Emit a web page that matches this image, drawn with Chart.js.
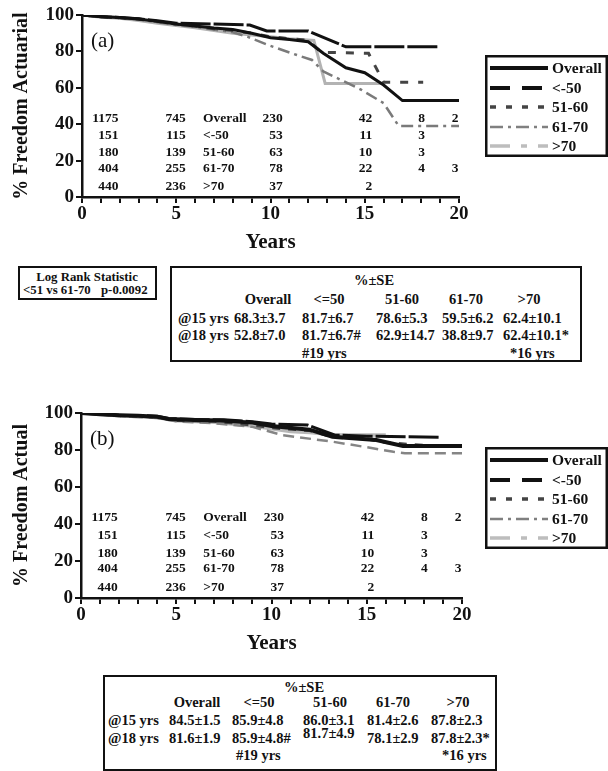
<!DOCTYPE html>
<html><head><meta charset="utf-8">
<script src="https://cdn.jsdelivr.net/npm/chart.js@4"></script>
<style>
html,body{margin:0;padding:0;background:#fff;width:608px;height:771px;overflow:hidden;font-family:"Liberation Serif","DejaVu Serif",serif;}
canvas{position:absolute;left:0;}
.box{position:absolute;border:2px solid #111;box-sizing:border-box;}
.t{position:absolute;white-space:nowrap;line-height:16px;height:16px;font-weight:bold;font-size:14.5px;color:#111;}
.s{font-size:12.8px;}
.c{transform:translateX(-50%);}
</style></head><body>
<canvas id="ca" width="608" height="255" style="top:0px"></canvas>
<canvas id="cb" width="608" height="270" style="top:390px"></canvas>
<div id="tables"></div>
<script>
// ---------------- DATA ----------------
const groups = ['Overall', '<-50', '51-60', '61-70', '>70'];
const xTickLabels = [0, 5, 10, 15, 20];
const yTickLabels = [0, 20, 40, 60, 80, 100];

// Panel (a): % Freedom Actuarial  [years, %]
const aOverall = [[0,100],[1,99.2],[2,98.6],[3,97.8],[4,96.5],[5,95],[6,94],[7,92.8],[8,92],[9,90],[10,87.5],[11,86.5],[12,85.3],[12.8,79],[14,71],[15,68.3],[16,61.5],[17,53],[20,53]];
const aUnder50 = [[0,100],[1,99],[2,98.6],[3,98],[4,96.8],[5,95.5],[7,95],[8.9,94.5],[9.8,91.2],[12,91.2],[14,82.5],[19,82.5]];
const a51to60 = [[0,100],[1,99],[2,98.5],[3,97.8],[4,96.5],[5,95],[6,94],[7,92.5],[8,91.5],[9,90],[10,88],[11,87],[12,86],[12.7,79.5],[15.2,79],[16,63],[18.1,63]];
const a61to70 = [[0,100],[1,99],[2,98.3],[3,97.5],[4,96],[5,94.5],[6,93.5],[7,92],[8,90.5],[8.8,88],[10,83],[11.4,78],[12.2,75.3],[12.8,69],[14.8,59],[16,51.6],[16.8,39],[20,39]];
const aOver70 = [[0,100],[1,98.8],[2,98.2],[3,97],[4,95.5],[5,94.2],[6,93],[7,91.5],[8,90],[9,89],[10,88],[11,87],[12.3,86],[12.9,62.4],[16,62.4]];

// Panel (b): % Freedom Actual
const bOverall = [[0,100],[1,99.3],[2,98.8],[3,98.5],[4,98],[4.6,96.8],[6,96.2],[7.3,96],[9,94.8],[10,93],[12,91],[13.2,87.2],[15.5,85.4],[16.9,82.2],[20,82.2]];
const bUnder50 = [[0,100],[1,99.3],[2,98.8],[3,98.6],[4,98.3],[4.6,97],[6,96.5],[7.5,96.3],[9,95.3],[10,94],[11.9,93.5],[13.3,88.1],[15,87.5],[18.9,86.9]];
const b51to60 = [[0,100],[2,98.6],[4,97.8],[5,96],[7,95.5],[9,93.5],[10,92],[12,90.5],[13.3,86.8],[15,86],[16,84],[18,82.5]];
const b61to70 = [[0,100],[2,98.4],[4,97.3],[5,95.5],[7,94.5],[9,92.5],[10.6,88],[13.2,84.5],[15,81.5],[16.4,79],[17,78.3],[20,78.3]];
const bOver70 = [[0,100],[2,98.5],[4,97.5],[5,95.8],[7,95],[9,93],[11,90],[12,89.5],[13.4,88.1],[16,88.1]];

// Numbers at risk (rows = groups; columns placed near 0,5,10,15,18,20 yrs)
const atRiskRows = [
  [1175, 745, 230, 42, 8, 2],
  [151, 115, 53, 11, 3, null],
  [180, 139, 63, 10, 3, null],
  [404, 255, 78, 22, 4, 3],
  [440, 236, 37, 2, null, null]
];
const atRiskColYears = [1.93, 5.5, 10.65, 15.4, 18.2, 19.97]; // right edge of each column (years)
const atRiskLabelYear = 6.42;                               // left edge of the group label column
const atRiskRowPct = [43.3, 34, 24.2, 15.8, 5.8];           // vertical position of each row (%)

// %±SE tables
const seHeaders = ['Overall', '<=50', '51-60', '61-70', '>70'];
const seA15 = ['68.3±3.7', '81.7±6.7', '78.6±5.3', '59.5±6.2', '62.4±10.1'];
const seA18 = ['52.8±7.0', '81.7±6.7#', '62.9±14.7', '38.8±9.7', '62.4±10.1*'];
const seB15 = ['84.5±1.5', '85.9±4.8', '86.0±3.1', '81.4±2.6', '87.8±2.3'];
const seB18 = ['81.6±1.9', '85.9±4.8#', '81.7±4.9', '78.1±2.9', '87.8±2.3*'];
const seRowLabels = ['@15 yrs', '@18 yrs'];
const seNotes = ['#19 yrs', '*16 yrs'];
const logRank = ['Log Rank Statistic', '<51 vs 61-70', 'p-0.0092'];

// ---------------- STYLES ----------------
const SERIF = '"Liberation Serif", "DejaVu Serif", serif';
const plotStyleA = [
  {c:'#111', w:3, dash:[]},
  {c:'#111', w:3, dash:[30,3]},
  {c:'#444', w:3, dash:[8,10]},
  {c:'#7a7a7a', w:2.5, dash:[12,5,3,5]},
  {c:'#b3b3b3', w:3, dash:[]}
];
const plotStyleB = [
  {c:'#111', w:4, dash:[]},
  {c:'#111', w:3, dash:[30,3]},
  {c:'#444', w:3, dash:[8,8]},
  {c:'#858585', w:2.5, dash:[11,6]},
  {c:'#b8b8b8', w:3.5, dash:[]}
];
const legendStyle = [
  {c:'#111', w:4, dash:[]},
  {c:'#111', w:4, dash:[20,12]},
  {c:'#444', w:3.5, dash:[6,10]},
  {c:'#808080', w:2.5, dash:[13,5,3,5]},
  {c:'#bdbdbd', w:3.5, dash:[20,11,6,11]}
];
const legendRowDy = [13, 33, 52, 72, 91];

const annotPlugin = {
  id: 'annot',
  afterDraw(chart, args, o) {
    const {ctx, scales: {x, y}, chartArea} = chart;
    ctx.save();
    ctx.fillStyle = '#111';
    ctx.textBaseline = 'middle';
    ctx.font = 'bold 13.5px ' + SERIF;
    atRiskRows.forEach((row, i) => {
      const py = y.getPixelForValue(atRiskRowPct[i]);
      ctx.textAlign = 'right';
      row.forEach((n, j) => {
        if (n == null) return;
        ctx.fillText(String(n), x.getPixelForValue(atRiskColYears[j]), py);
      });
      ctx.textAlign = 'left';
      ctx.fillText(groups[i], x.getPixelForValue(atRiskLabelYear), py);
    });
    // panel letter
    ctx.font = '21px ' + SERIF;
    ctx.textAlign = 'left';
    ctx.fillText(o.panel, chartArea.left + 9, chartArea.top + 26);
    // legend box
    const L = o.legend;
    ctx.setLineDash([]);
    ctx.lineWidth = 2.5;
    ctx.strokeStyle = '#111';
    ctx.strokeRect(L.x + 1.25, L.y + 1.25, L.w - 2.5, L.h - 2.5);
    legendRowDy.forEach((dy, i) => {
      const s = legendStyle[i];
      ctx.beginPath();
      ctx.setLineDash(s.dash);
      ctx.lineWidth = s.w;
      ctx.strokeStyle = s.c;
      ctx.lineCap = 'butt';
      ctx.moveTo(L.x + 5, L.y + dy);
      ctx.lineTo(L.x + 63, L.y + dy);
      ctx.stroke();
      ctx.setLineDash([]);
      ctx.font = 'bold 15.5px ' + SERIF;
      ctx.fillStyle = '#111';
      ctx.fillText(groups[i], L.x + 67, L.y + dy + 1);
    });
    ctx.restore();
  }
};

function makeChart(id, series, styles, lay) {
  const canvasH = lay.canvasH;
  return new Chart(document.getElementById(id), {
    type: 'line',
    data: {
      datasets: series.map((s, i) => ({
        label: groups[i],
        data: s.map(([t, v]) => ({x: t, y: v})),
        borderColor: styles[i].c,
        borderWidth: styles[i].w,
        borderDash: styles[i].dash,
        pointRadius: 0,
        tension: 0,
        fill: false
      }))
    },
    options: {
      responsive: false,
      animation: false,
      layout: {padding: {left: 0, right: 608 - lay.right, top: lay.top, bottom: 0}},
      plugins: {
        legend: {display: false},
        tooltip: {enabled: false},
        annot: {panel: lay.panel, legend: lay.legend}
      },
      scales: {
        x: {
          type: 'linear', min: 0, max: 20,
          afterBuildTicks: s => { s.ticks = Array.from({length: 21}, (_, k) => ({value: k})); },
          ticks: {
            autoSkip: false, maxRotation: 0, padding: 0,
            callback: v => xTickLabels.includes(v) ? String(v) : '',
            color: '#111', font: {family: SERIF, size: 19, weight: 'bold'}
          },
          grid: {drawOnChartArea: false, drawTicks: true, tickLength: 6, color: '#111', lineWidth: 2},
          border: {color: '#111', width: 2.5},
          title: {display: true, text: 'Years', color: '#111', font: {family: SERIF, size: 21, weight: 'bold'}, padding: {top: 0, bottom: lay.titlePad}},
          afterFit: s => { s.height = canvasH - lay.bottom; }
        },
        y: {
          min: 0, max: 100,
          afterBuildTicks: s => { s.ticks = yTickLabels.map(v => ({value: v})); },
          ticks: {padding: 2, color: '#111', font: {family: SERIF, size: 19, weight: 'bold'}},
          grid: {drawOnChartArea: false, drawTicks: true, tickLength: 6, color: '#111', lineWidth: 2},
          border: {color: '#111', width: 2.5},
          title: {display: true, text: lay.yTitle, color: '#111', font: {family: SERIF, size: 20, weight: 'bold'}, padding: {top: 10, bottom: 0}},
          afterFit: s => { s.width = lay.left; }
        }
      }
    },
    plugins: [annotPlugin]
  });
}

makeChart('ca', [aOverall, aUnder50, a51to60, a61to70, aOver70], plotStyleA, {
  canvasH: 255, left: 82, right: 459, top: 15, bottom: 197, titlePad: 0,
  panel: '(a)', yTitle: '% Freedom Actuarial',
  legend: {x: 485, y: 55, w: 123, h: 102}
});
makeChart('cb', [bOverall, bUnder50, b51to60, b61to70, bOver70], plotStyleB, {
  canvasH: 270, left: 81, right: 462, top: 23, bottom: 208, titlePad: 4,
  panel: '(b)', yTitle: '% Freedom Actual',
  legend: {x: 485, y: 57, w: 123, h: 102}
});

// ---------------- TABLES (HTML text) ----------------
const host = document.getElementById('tables');
function box(x, y, w, h) {
  const d = document.createElement('div');
  d.className = 'box';
  Object.assign(d.style, {left: x + 'px', top: y + 'px', width: w + 'px', height: h + 'px'});
  host.appendChild(d);
}
function txt(s, x, yc, center, cls) {
  const d = document.createElement('div');
  d.className = 't' + (center ? ' c' : '') + (cls ? ' ' + cls : '');
  d.textContent = s;
  Object.assign(d.style, {left: x + 'px', top: (yc - 8) + 'px'});
  host.appendChild(d);
}
function seTable(L, r15, r18) {
  box(...L.box);
  txt('%±SE', L.title[0], L.title[1], true);
  seHeaders.forEach((h, i) => txt(h, L.headX[i], L.headY, true));
  txt(seRowLabels[0], L.labelX, L.r15Y);
  txt(seRowLabels[1], L.labelX, L.r18Y);
  r15.forEach((s, i) => txt(s, L.colX[i], L.r15Y));
  r18.forEach((s, i) => txt(s, L.colX[i], L.r18Y + L.r18dY[i]));
  txt(seNotes[0], L.noteX[0], L.noteY);
  txt(seNotes[1], L.noteX[1], L.noteY);
}
// Log rank box
box(18, 266, 139, 34);
txt(logRank[0], 87, 277, true, 's');
txt(logRank[1], 23, 290, false, 's');
txt(logRank[2], 101, 290, false, 's');

seTable({box: [170, 266, 412, 96], title: [374, 280], headY: 299, headX: [268, 329, 402, 466, 529],
  labelX: 178, colX: [234, 302, 376, 442, 503], r15Y: 318, r18Y: 335, r18dY: [0,0,0,0,0],
  noteY: 353, noteX: [302, 510]}, seA15, seA18);
seTable({box: [103, 675, 394, 96], title: [304, 687], headY: 702, headX: [197, 259, 330, 393, 458],
  labelX: 108, colX: [169, 232, 303, 367, 431], r15Y: 720, r18Y: 738, r18dY: [0,0,-5,0,0],
  noteY: 755, noteX: [236, 442]}, seB15, seB18);
</script>
</body></html>
